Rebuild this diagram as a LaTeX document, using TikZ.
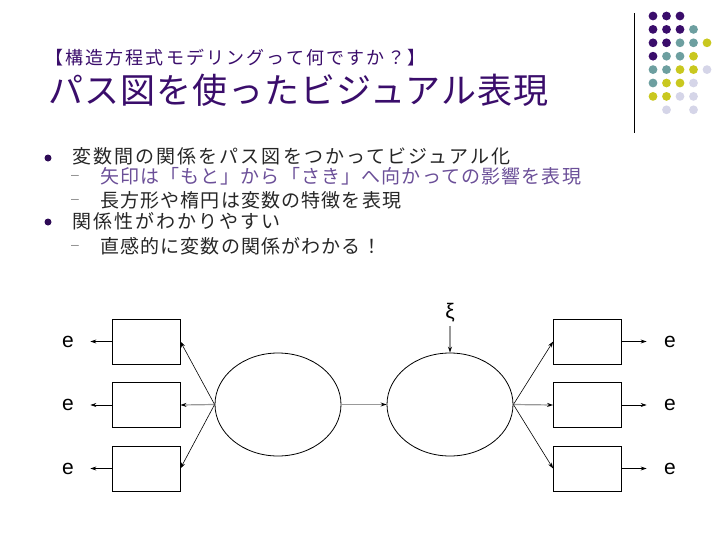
\documentclass[tikz,border=0pt]{standalone}
\usepackage{fontspec}
\usepackage{xcolor}
\usetikzlibrary{arrows.meta,shapes.geometric,positioning}

\setmainfont{Liberation Sans}
\newfontfamily\jptitle[LetterSpace=12]{Noto Sans CJK JP}
\newfontfamily\jpbig[LetterSpace=3]{Noto Sans CJK JP}
\newfontfamily\jpbody[LetterSpace=11]{Noto Sans CJK JP}
\newfontfamily\jpsub[LetterSpace=6]{Noto Sans CJK JP}

\definecolor{deepviolet}{HTML}{3A0D6B}
\definecolor{slatecyan}{HTML}{6D9FA0}
\definecolor{olivelime}{HTML}{C9C81F}
\definecolor{paleiris}{HTML}{D5D5E8}
\definecolor{mutedviolet}{HTML}{6B4F98}

\begin{document}
\begin{tikzpicture}[x=1pt,y=-1pt,node distance=63.5pt,
  obsbox/.style={rectangle,draw,line width=0.8pt,minimum width=68pt,minimum height=45pt,inner sep=0pt},
  latent/.style={ellipse,draw,line width=0.8pt,minimum width=126pt,minimum height=103pt,inner sep=0pt},
  errlabel/.style={font=\fontsize{21}{21}\selectfont},
  pathlink/.style={-{Stealth[length=6pt,width=4pt]},line width=0.6pt},
  fadedlink/.style={-{Stealth[length=6pt,width=4pt,black]},draw=black!40,line width=1.2pt},
  textline/.style={anchor=west,inner sep=0pt},
  bodytext/.style={textline,font=\jpbody\fontsize{19}{19}\selectfont,text=black!85},
  subtext/.style={textline,font=\jpsub\fontsize{19}{19}\selectfont,text=black!85},
  itemdot/.style={circle,fill=deepviolet!80!black,minimum size=7pt,inner sep=0pt},
  itemdash/.style={text=black!45,font=\fontsize{14}{14}\selectfont,inner sep=0pt}]
\useasboundingbox (0,0) rectangle (728,546);

% corner ornament
\draw [line width=1pt] (634,13) -- (634,133);
\foreach \c/\r/\col in {1/1/deepviolet,2/1/deepviolet,3/1/deepviolet,
    1/2/deepviolet,2/2/deepviolet,3/2/deepviolet,4/2/slatecyan,
    1/3/deepviolet,2/3/deepviolet,3/3/slatecyan,4/3/slatecyan,5/3/olivelime,
    1/4/deepviolet,2/4/slatecyan,3/4/slatecyan,4/4/olivelime,
    1/5/slatecyan,2/5/slatecyan,3/5/olivelime,4/5/olivelime,5/5/paleiris,
    1/6/slatecyan,2/6/olivelime,3/6/olivelime,4/6/paleiris,
    1/7/olivelime,2/7/olivelime,3/7/paleiris,4/7/paleiris,
    2/8/paleiris,4/8/paleiris}
  \fill [\col] (639.5+13.5*\c,2.6+13.4*\r) circle (4.4);

% title
\node (subtitle) [textline,text=deepviolet,font=\jptitle\fontsize{18}{18}\selectfont] at (45,57.5) {【構造方程式モデリングって何ですか？】};
\node (title) [textline,text=deepviolet,font=\jpbig\fontsize{35}{35}\selectfont] at (48,90) {パス図を使ったビジュアル表現};

% bullets
\node (dot1) [itemdot] at (48,158) {};
\node (item1) [bodytext] at (72,156) {変数間の関係をパス図をつかってビジュアル化};
\node (dash1) [itemdash] at (75,177) {–};
\node (sub1) [subtext,text=mutedviolet] at (100,176) {矢印は「もと」から「さき」へ向かっての影響を表現};
\node (dash2) [itemdash] at (75,201) {–};
\node (sub2) [subtext] at (100,200) {長方形や楕円は変数の特徴を表現};
\node (dot2) [itemdot] at (48,222) {};
\node (item2) [bodytext] at (72,221) {関係性がわかりやすい};
\node (dash3) [itemdash] at (75,247) {–};
\node (sub3) [subtext] at (100,246) {直感的に変数の関係がわかる！};

% path diagram
\node (lbox1) [obsbox] at (146,341.5) {};
\node (lbox2) [obsbox, below of=lbox1] {};
\node (lbox3) [obsbox, below of=lbox2] {};
\node (llat) [latent] at (278,404.5) {};
\node (rlat) [latent] at (450,404.5) {};
\node (rbox1) [obsbox] at (587.5,341.5) {};
\node (rbox2) [obsbox, below of=rbox1] {};
\node (rbox3) [obsbox, below of=rbox2] {};

\node (le1) [errlabel, left of=lbox1, node distance=78pt] {e};
\node (le2) [errlabel, left of=lbox2, node distance=78pt] {e};
\node (le3) [errlabel, left of=lbox3, node distance=78pt] {e};
\node (re1) [errlabel, right of=rbox1, node distance=82.5pt] {e};
\node (re2) [errlabel, right of=rbox2, node distance=82.5pt] {e};
\node (re3) [errlabel, right of=rbox3, node distance=82.5pt] {e};
\node (shock) [errlabel, above of=rlat, node distance=91.5pt] {ξ};

\draw [pathlink, shorten >=13pt] (lbox1.west) -- (le1);
\draw [pathlink, shorten >=13pt] (lbox2.west) -- (le2);
\draw [pathlink, shorten >=13pt] (lbox3.west) -- (le3);
\draw [pathlink, shorten >=14pt] (rbox1.east) -- (re1);
\draw [pathlink, shorten >=14pt] (rbox2.east) -- (re2);
\draw [pathlink, shorten >=14pt] (rbox3.east) -- (re3);

\draw [pathlink] (llat.west) -- (lbox1.east);
\draw [fadedlink] (llat.west) -- (lbox2.east);
\draw [pathlink] (llat.west) -- (lbox3.east);
\draw [fadedlink] (llat.east) -- (rlat.west);
\draw [fadedlink] (shock) -- (rlat.north);
\draw [pathlink] (rlat.east) -- (rbox1.west);
\draw [fadedlink] (rlat.east) -- (rbox2.west);
\draw [pathlink] (rlat.east) -- (rbox3.west);
\end{tikzpicture}
\end{document}
